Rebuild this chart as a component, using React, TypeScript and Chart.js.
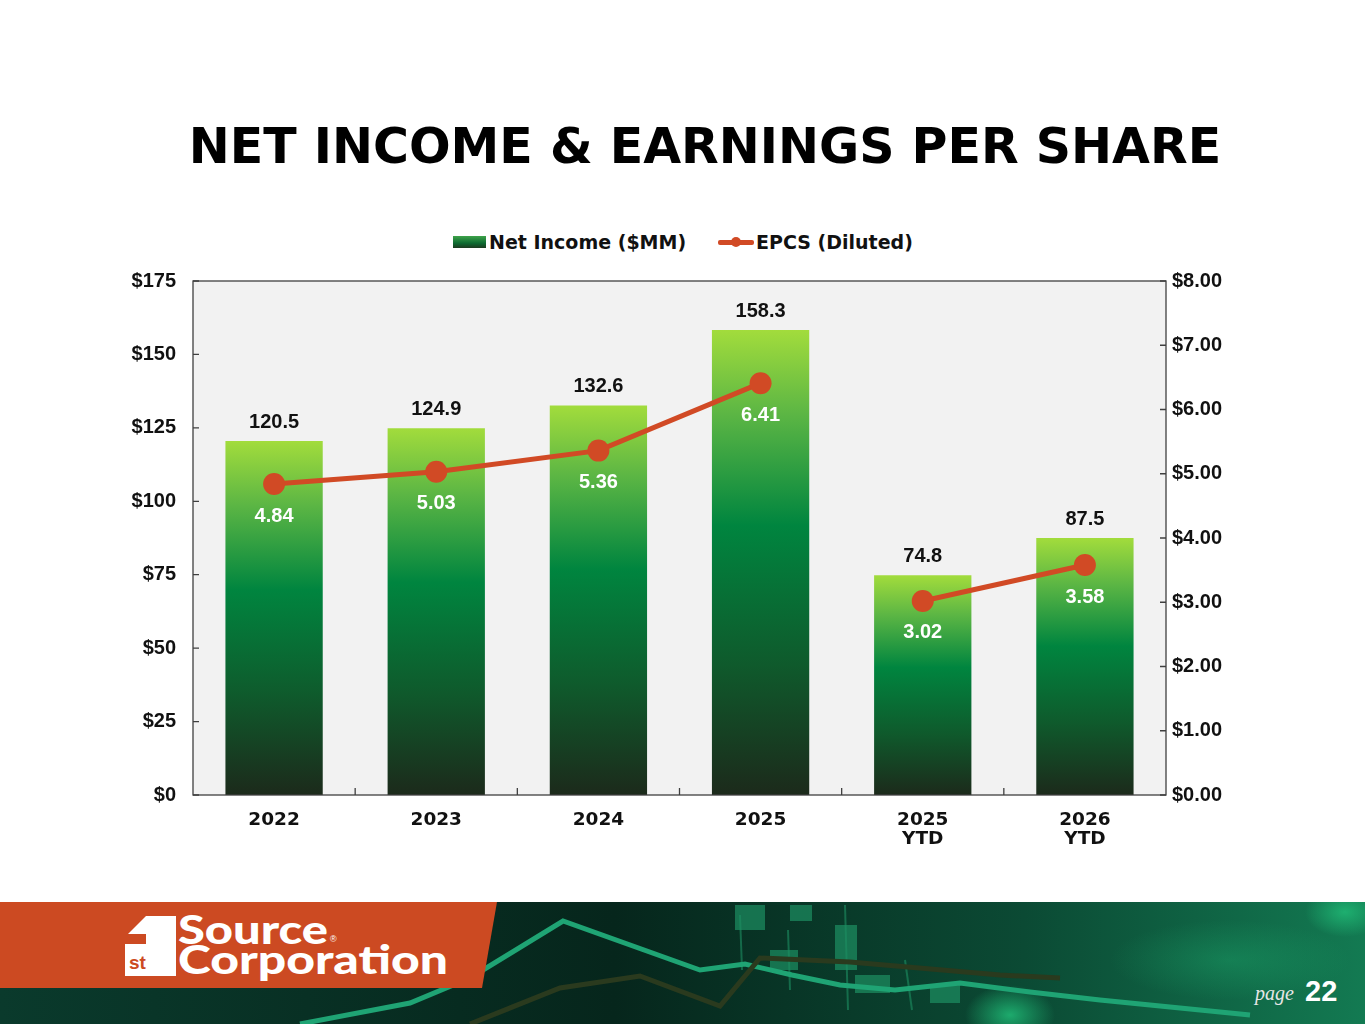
import React, { useEffect, useRef } from 'react';
import { Chart, registerables } from 'chart.js';

Chart.register(...registerables);

// chart data
const categories: (string | string[])[] = ['2022', '2023', '2024', '2025', ['2025', 'YTD'], ['2026', 'YTD']];
const netIncome = [120.5, 124.9, 132.6, 158.3, 74.8, 87.5];
const epcs = [4.84, 5.03, 5.36, 6.41, 3.02, 3.58];
const leftTicks = { min: 0, max: 175, step: 25 };
const rightTicks = { min: 0, max: 8, step: 1 };
// the line is broken between full years and year-to-date
const lineBreakAfter = 3;

const FONT = '"Liberation Sans", Arial, sans-serif';
const HEAVY = '"DejaVu Sans", "Liberation Sans", sans-serif';
const LINE_COLOR = '#d14a25';
const AXIS_COLOR = '#404040';

const barGradient = (chart: Chart, value: number) => {
  const area = chart.chartArea;
  const y = chart.scales.y;
  if (!area || !y) return '#00843f';
  const top = y.getPixelForValue(value);
  const g = chart.ctx.createLinearGradient(0, top, 0, area.bottom);
  g.addColorStop(0, '#a2dc3c');
  g.addColorStop(0.18, '#5cb644');
  g.addColorStop(0.42, '#00853f');
  g.addColorStop(0.72, '#0f5a2c');
  g.addColorStop(1, '#1c2a1b');
  return g;
};

// plot background, border, inward tick marks and value labels
const decorPlugin = {
  id: 'decor',
  beforeDatasetsDraw(chart: any) {
    const { ctx, chartArea: a } = chart;
    ctx.save();
    ctx.fillStyle = '#f2f2f2';
    ctx.fillRect(a.left, a.top, a.right - a.left, a.bottom - a.top);
    ctx.restore();
  },
  afterDatasetsDraw(chart: any) {
    const { ctx, chartArea: a, scales } = chart;
    ctx.save();
    ctx.strokeStyle = AXIS_COLOR;
    ctx.lineWidth = 1.3;
    ctx.strokeRect(a.left, a.top, a.right - a.left, a.bottom - a.top);
    ctx.beginPath();
    scales.y.ticks.forEach((t: any) => {
      const py = scales.y.getPixelForValue(t.value);
      ctx.moveTo(a.left, py);
      ctx.lineTo(a.left + 6, py);
    });
    scales.y1.ticks.forEach((t: any) => {
      const py = scales.y1.getPixelForValue(t.value);
      ctx.moveTo(a.right - 6, py);
      ctx.lineTo(a.right, py);
    });
    for (let i = 0; i < categories.length - 1; i++) {
      const px = (scales.x.getPixelForTick(i) + scales.x.getPixelForTick(i + 1)) / 2;
      ctx.moveTo(px, a.bottom);
      ctx.lineTo(px, a.bottom - 7);
    }
    ctx.stroke();

    ctx.font = `bold 20px ${FONT}`;
    ctx.textAlign = 'center';
    ctx.textBaseline = 'middle';
    const bars = chart.getDatasetMeta(1).data;
    bars.forEach((el: any, i: number) => {
      ctx.fillStyle = '#111111';
      ctx.fillText(netIncome[i].toFixed(1), el.x, el.y - 19);
    });
    const pts = chart.getDatasetMeta(0).data;
    pts.forEach((el: any, i: number) => {
      ctx.fillStyle = '#ffffff';
      ctx.fillText(epcs[i].toFixed(2), el.x, el.y + 32);
    });
    ctx.restore();
  },
};

const NetIncomeChart: React.FC = () => {
  const chartRef = useRef<HTMLCanvasElement>(null);

  useEffect(() => {
    if (!chartRef.current) return;
    const ctx = chartRef.current.getContext('2d');
    if (!ctx) return;
    const chart = new Chart(ctx, {
      type: 'bar',
      data: {
        labels: categories,
        datasets: [
          {
            type: 'line',
            label: 'EPCS (Diluted)',
            data: epcs,
            yAxisID: 'y1',
            borderColor: LINE_COLOR,
            backgroundColor: LINE_COLOR,
            borderWidth: 5,
            pointRadius: 11,
            pointHoverRadius: 11,
            pointBorderWidth: 0,
            tension: 0,
            segment: {
              borderColor: (c: any) => (c.p0DataIndex === lineBreakAfter ? 'rgba(0,0,0,0)' : LINE_COLOR),
            },
            order: 0,
          },
          {
            type: 'bar',
            label: 'Net Income ($MM)',
            data: netIncome,
            yAxisID: 'y',
            backgroundColor: (c: any) => barGradient(c.chart, netIncome[c.dataIndex]),
            barPercentage: 0.6,
            categoryPercentage: 1,
            borderWidth: 0,
            order: 1,
          },
        ],
      } as any,
      options: {
        responsive: false,
        animation: false,
        devicePixelRatio: 1,
        layout: { padding: { left: 100, right: 99, top: 10, bottom: 15 } },
        plugins: { legend: { display: false }, tooltip: { enabled: false } },
        scales: {
          x: {
            grid: { display: false, drawTicks: false },
            border: { display: false },
            ticks: {
              color: '#111111',
              padding: 15,
              font: { family: HEAVY, size: 18.5, weight: 'bold', lineHeight: 1.05 },
              maxRotation: 0,
            },
            afterFit: (s: any) => { s.height = 60; },
          },
          y: {
            position: 'left',
            min: leftTicks.min,
            max: leftTicks.max,
            grid: { display: false, drawTicks: false },
            border: { display: false },
            ticks: {
              stepSize: leftTicks.step,
              color: '#111111',
              padding: 17,
              font: { family: FONT, size: 20, weight: 'bold' },
              callback: (v: any) => '$' + v,
            },
            afterFit: (s: any) => { s.width = 93; },
          },
          y1: {
            position: 'right',
            min: rightTicks.min,
            max: rightTicks.max,
            grid: { display: false, drawTicks: false },
            border: { display: false },
            ticks: {
              stepSize: rightTicks.step,
              color: '#111111',
              padding: 6,
              font: { family: FONT, size: 20, weight: 'bold' },
              callback: (v: any) => '$' + Number(v).toFixed(2),
            },
            afterFit: (s: any) => { s.width = 100; },
          },
        },
      } as any,
      plugins: [decorPlugin],
    });
    return () => {
      chart.destroy();
    };
  }, []);

  return (
    <canvas
      ref={chartRef}
      width={1365}
      height={618}
      style={{ position: 'absolute', left: 0, top: 252, width: 1365, height: 618 }}
    />
  );
};

const Legend: React.FC = () => (
  <div
    style={{
      position: 'absolute', left: 453, top: 230, height: 24, display: 'flex', alignItems: 'center',
      fontFamily: HEAVY, fontWeight: 'bold', fontSize: 19, color: '#111', whiteSpace: 'nowrap',
    }}
  >
    <span style={{ width: 33, height: 12, background: 'linear-gradient(#3fa34a, #0d6a31 60%, #1c3a1f)', marginRight: 3 }} />
    <span>Net Income ($MM)</span>
    <span style={{ position: 'relative', width: 36, height: 12, marginLeft: 32, marginRight: 2 }}>
      <span style={{ position: 'absolute', left: 0, right: 0, top: 4, height: 5, background: LINE_COLOR, borderRadius: 2 }} />
      <span style={{ position: 'absolute', left: 13, top: 1, width: 10, height: 10, borderRadius: 5, background: LINE_COLOR }} />
    </span>
    <span>EPCS (Diluted)</span>
  </div>
);

const Footer: React.FC = () => (
  <svg width={1365} height={122} viewBox="0 902 1365 122" style={{ position: 'absolute', left: 0, top: 902 }}>
    <defs>
      <linearGradient id="bg" x1="0" y1="0" x2="1" y2="0">
        <stop offset="0" stopColor="#0a3a2c" />
        <stop offset="0.45" stopColor="#06261c" />
        <stop offset="0.75" stopColor="#0b4a34" />
        <stop offset="1" stopColor="#137a52" />
      </linearGradient>
      <radialGradient id="blob" cx="0.5" cy="0.5" r="0.5">
        <stop offset="0" stopColor="#1fb573" stopOpacity="0.9" />
        <stop offset="1" stopColor="#1fb573" stopOpacity="0" />
      </radialGradient>
    </defs>
    <rect x={0} y={902} width={1365} height={122} fill="url(#bg)" />
    <ellipse cx={1010} cy={1015} rx={45} ry={30} fill="url(#blob)" />
    <ellipse cx={1345} cy={912} rx={40} ry={25} fill="url(#blob)" />
    <ellipse cx={1230} cy={960} rx={120} ry={40} fill="url(#blob)" opacity={0.35} />
    <g fill="#1d8f62" opacity={0.7}>
      <rect x={735} y={905} width={30} height={25} />
      <rect x={770} y={950} width={28} height={20} />
      <rect x={835} y={925} width={22} height={45} />
      <rect x={855} y={975} width={35} height={18} />
      <rect x={930} y={985} width={30} height={18} />
      <rect x={790} y={905} width={22} height={16} />
    </g>
    <g stroke="#1d8f62" strokeWidth={2} opacity={0.6}>
      <line x1={788} y1={930} x2={790} y2={990} />
      <line x1={845} y1={905} x2={848} y2={1010} />
      <line x1={905} y1={960} x2={912} y2={1010} />
      <line x1={740} y1={915} x2={742} y2={970} />
    </g>
    <polyline
      points="300,1024 410,1003 470,978 563,921 700,970 745,964 792,975 840,985 895,990 960,983 1030,992 1100,1000 1250,1015"
      fill="none" stroke="#1fa474" strokeWidth={5} />
    <polyline points="470,1024 560,988 640,976 720,1006 760,958 850,962 1000,975 1060,978"
      fill="none" stroke="#2a3a1e" strokeWidth={5} />
    <polygon points="0,902 497,902 482,988 0,988" fill="#cc4a22" />
    <g fill="#ffffff">
      <polygon points="146,916 176,916 176,976 125,976 125,944 146,944 146,934 128,934" />
      <text x={129} y={969} fontFamily={FONT} fontWeight="bold" fontSize={19} fill="#cc4a22">st</text>
      <text x={178} y={944} fontFamily="Lato, sans-serif" fontWeight={900} fontSize={40} textLength={150} lengthAdjust="spacingAndGlyphs">Source</text>
      <text x={330} y={942} fontFamily={FONT} fontSize={9}>®</text>
      <text x={178} y={974} fontFamily="Lato, sans-serif" fontWeight={900} fontSize={40} textLength={270} lengthAdjust="spacingAndGlyphs">Corporation</text>
    </g>
    <text x={1255} y={1000} fontFamily='"Liberation Serif", serif' fontStyle="italic" fontSize={20} fill="#e6e6e6">page</text>
    <text x={1305} y={1001} fontFamily={FONT} fontWeight="bold" fontSize={29} fill="#ffffff">22</text>
  </svg>
);

const App: React.FC = () => (
  <div style={{ position: 'absolute', left: 0, top: 0, width: 1365, height: 1024, overflow: 'hidden', background: '#ffffff' }}>
    <div
      style={{
        position: 'absolute', left: 150, width: 1110, top: 118, textAlign: 'center', whiteSpace: 'nowrap',
        fontFamily: HEAVY, fontWeight: 'bold', fontSize: 49, color: '#000', lineHeight: '58px',
      }}
    >
      NET INCOME &amp; EARNINGS PER SHARE
    </div>
    <Legend />
    <NetIncomeChart />
    <Footer />
  </div>
);

export default App;
